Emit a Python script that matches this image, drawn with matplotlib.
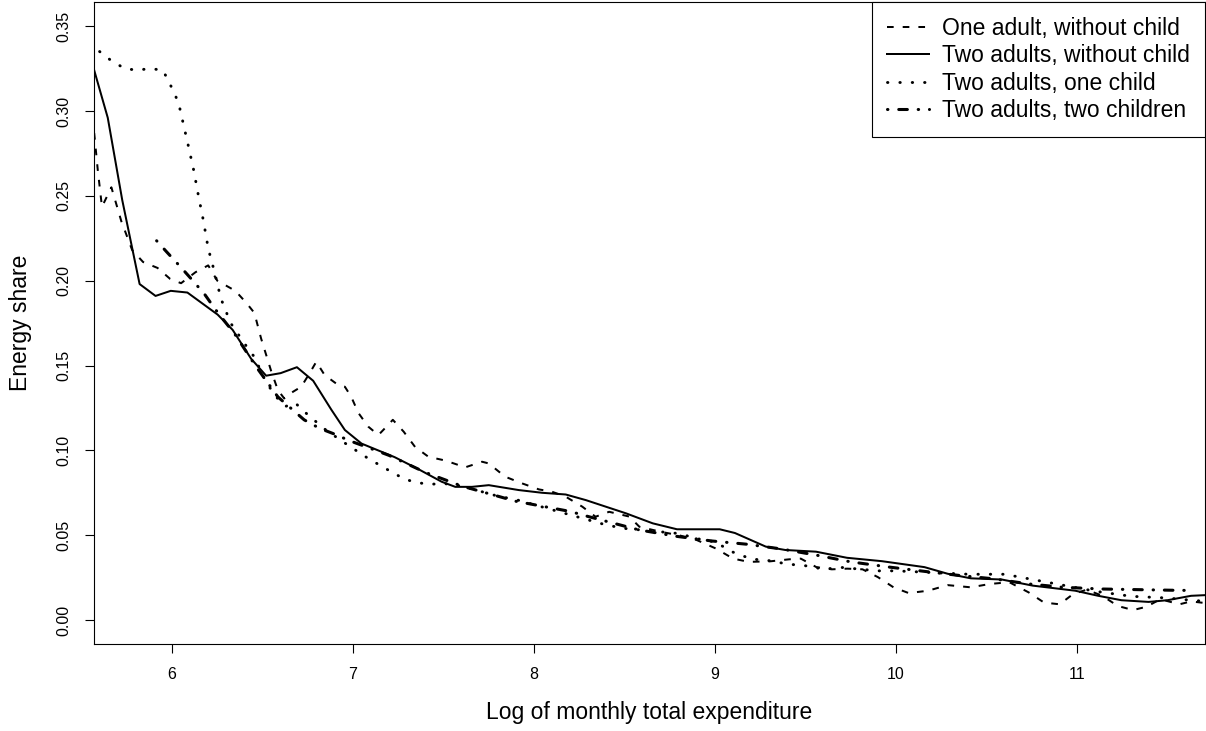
import matplotlib
matplotlib.use('Agg')
import matplotlib.pyplot as plt

# series (log expenditure, energy share)
one_adult_x = [5.57, 5.59, 5.613, 5.665, 5.72, 5.78, 5.84, 5.92, 5.99, 6.05, 6.13, 6.2, 6.25,
               6.35, 6.41, 6.455, 6.492, 6.547, 6.585, 6.62, 6.668, 6.714, 6.76, 6.797, 6.843,
               6.918, 6.955, 6.99, 7.03, 7.084, 7.14, 7.176, 7.22, 7.28, 7.343, 7.417, 7.51,
               7.62, 7.713, 7.75, 7.84, 7.935, 8.027, 8.1, 8.175, 8.267, 8.34, 8.415, 8.526,
               8.582, 8.7, 8.8, 8.898, 9.004, 9.1, 9.186, 9.303, 9.41, 9.474, 9.56, 9.645,
               9.73, 9.815, 9.9, 9.986, 10.07, 10.177, 10.285, 10.413, 10.52, 10.626, 10.733,
               10.818, 10.904, 10.978, 11.053, 11.14, 11.225, 11.31, 11.385, 11.46, 11.566,
               11.63, 11.71]
one_adult_y = [0.287, 0.265, 0.2435, 0.255, 0.235, 0.218, 0.211, 0.2075, 0.201, 0.1985, 0.205,
               0.209, 0.200, 0.194, 0.187, 0.181, 0.166, 0.147, 0.1355, 0.1306, 0.1345, 0.1375,
               0.1454, 0.1522, 0.1444, 0.1385, 0.1375, 0.1316, 0.122, 0.114, 0.109, 0.113,
               0.118, 0.111, 0.102, 0.0962, 0.094, 0.090, 0.0933, 0.0923, 0.0845, 0.0805,
               0.077, 0.0756, 0.0727, 0.0668, 0.0609, 0.0638, 0.061, 0.055, 0.052, 0.050,
               0.0472, 0.0422, 0.0362, 0.0343, 0.0346, 0.0358, 0.0362, 0.0312, 0.0299, 0.0303,
               0.0299, 0.0253, 0.0193, 0.0159, 0.0173, 0.0206, 0.0193, 0.0213, 0.0223, 0.0163,
               0.0103, 0.0093, 0.0153, 0.0179, 0.0143, 0.0083, 0.0059, 0.0079, 0.0123, 0.0093,
               0.011, 0.010]

two_adults_x = [5.57, 5.645, 5.725, 5.821, 5.909, 5.993, 6.085, 6.252, 6.335, 6.437, 6.52, 6.60,
                6.69, 6.78, 6.88, 6.955, 7.047, 7.23, 7.36, 7.49, 7.565, 7.657, 7.75, 7.916,
                8.045, 8.175, 8.286, 8.397, 8.508, 8.656, 8.79, 9.026, 9.11, 9.28, 9.388, 9.558,
                9.729, 9.922, 10.157, 10.285, 10.413, 10.584, 10.755, 10.99, 11.117, 11.245,
                11.395, 11.5, 11.63, 11.71]
two_adults_y = [0.324, 0.296, 0.2475, 0.198, 0.191, 0.194, 0.193, 0.180, 0.171, 0.154, 0.144,
                0.1455, 0.149, 0.141, 0.124, 0.112, 0.104, 0.096, 0.089, 0.0815, 0.0785, 0.0785,
                0.0795, 0.0766, 0.075, 0.074, 0.0707, 0.0668, 0.0629, 0.057, 0.0535, 0.0535,
                0.0513, 0.0433, 0.0413, 0.0403, 0.0367, 0.0347, 0.0312, 0.0273, 0.0246, 0.0239,
                0.0203, 0.0173, 0.0143, 0.0117, 0.0107, 0.0117, 0.0143, 0.0147]

one_child_x = [5.60, 5.66, 5.738, 5.808, 5.878, 5.95, 5.983, 6.016, 6.041, 6.057, 6.089, 6.12,
               6.146, 6.174, 6.2, 6.235, 6.27, 6.324, 6.4, 6.455, 6.52, 6.58, 6.63, 6.68, 6.75,
               6.85, 6.973, 7.03, 7.093, 7.158, 7.22, 7.287, 7.352, 7.426, 7.5, 7.6, 7.7, 7.8,
               7.9, 8.0, 8.1, 8.2, 8.3, 8.4, 8.5, 8.6, 8.7, 8.8, 8.9, 9.0, 9.1, 9.2, 9.3, 9.4,
               9.5, 9.6, 9.7, 9.8, 9.9, 10.0, 10.2, 10.4, 10.6, 10.8, 11.0, 11.1, 11.3, 11.5,
               11.6, 11.71]
one_child_y = [0.335, 0.330, 0.325, 0.324, 0.325, 0.324, 0.317, 0.310, 0.3025, 0.295, 0.280,
               0.265, 0.250, 0.235, 0.219, 0.205, 0.1895, 0.175, 0.163, 0.155, 0.140, 0.131,
               0.126, 0.128, 0.121, 0.112, 0.103, 0.099, 0.0946, 0.0907, 0.0868, 0.083, 0.081,
               0.080, 0.0805, 0.079, 0.076, 0.073, 0.071, 0.068, 0.065, 0.062, 0.059, 0.056,
               0.054, 0.053, 0.052, 0.051, 0.048, 0.046, 0.040, 0.036, 0.035, 0.033, 0.032,
               0.030, 0.031, 0.030, 0.029, 0.029, 0.028, 0.027, 0.027, 0.023, 0.019, 0.017,
               0.014, 0.013, 0.012, 0.011]

two_children_x = [5.915, 5.97, 6.048, 6.115, 6.18, 6.24, 6.35, 6.46, 6.585, 6.73, 6.815, 6.912,
                  6.973, 7.1, 7.2, 7.3, 7.4, 7.5, 7.6, 7.7, 7.8, 7.9, 8.0, 8.1, 8.2, 8.3, 8.364,
                  8.577, 8.79, 8.983, 9.175, 9.367, 9.558, 9.75, 9.964, 10.157, 10.349, 10.54,
                  10.733, 10.925, 11.14, 11.353, 11.566, 11.62]
two_children_y = [0.2235, 0.217, 0.208, 0.200, 0.192, 0.183, 0.168, 0.150, 0.1315, 0.118, 0.113,
                  0.109, 0.106, 0.101, 0.097, 0.092, 0.087, 0.083, 0.079, 0.076, 0.073, 0.070,
                  0.068, 0.066, 0.064, 0.061, 0.0592, 0.0532, 0.0493, 0.0466, 0.0447, 0.0419,
                  0.0383, 0.0343, 0.0312, 0.0287, 0.0263, 0.0243, 0.0213, 0.0193, 0.0183,
                  0.0179, 0.0175, 0.0175]

labels = ['One adult, without child', 'Two adults, without child',
          'Two adults, one child', 'Two adults, two children']
x_ticks = [6, 7, 8, 9, 10, 11]
y_ticks = [0.00, 0.05, 0.10, 0.15, 0.20, 0.25, 0.30, 0.35]

plt.rcParams['font.family'] = ['Liberation Sans', 'DejaVu Sans']
plt.rcParams['lines.scale_dashes'] = False

fig = plt.figure(figsize=(12.06, 7.31), dpi=100)
ax = fig.add_axes([94 / 1206, 1 - 644 / 731, 1111 / 1206, 642 / 731])

ax.plot(one_adult_x, one_adult_y, color='black', lw=1.44, dashes=(4.8, 6.5),
        dash_capstyle='butt', label=labels[0])
ax.plot(two_adults_x, two_adults_y, color='black', lw=1.44, label=labels[1])
ax.plot(one_child_x, one_child_y, color='black', lw=2.1, dashes=(0.3, 8.6),
        dash_capstyle='round', label=labels[2])
ax.plot(two_children_x, two_children_y, color='black', lw=2.2,
        dashes=(0.3, 7.8, 6.2, 7.8), dash_capstyle='round', label=labels[3])

ax.set_xlim(5.569, 11.707)
ax.set_ylim(-0.0141, 0.3642)
ax.set_xticks(x_ticks)
ax.set_xticklabels([str(t) for t in x_ticks])
ax.set_yticks(y_ticks)
ax.set_yticklabels([f'{t:.2f}' for t in y_ticks], rotation=90, va='center')

for s in ax.spines.values():
    s.set_linewidth(0.8)
ax.tick_params(direction='out', length=6.5, width=0.8, labelsize=11.5, color='black')
ax.tick_params(axis='x', pad=10)
ax.tick_params(axis='y', pad=9.5)

ax.set_xlabel('Log of monthly total expenditure', fontsize=16.5)
ax.set_ylabel('Energy share', fontsize=16.5)
ax.xaxis.label.set_va('center')
ax.xaxis.set_label_coords(0.5, (644 - 713) / 642)
ax.yaxis.label.set_va('center')
ax.yaxis.set_label_coords((20 - 94) / 1111, 0.5)

leg = ax.legend(loc='upper right', fontsize=16.5, frameon=True, fancybox=False,
                borderaxespad=0, borderpad=0.66, labelspacing=0.19, handlelength=1.83,
                handletextpad=0.57, framealpha=1)
leg.get_frame().set_edgecolor('black')
leg.get_frame().set_linewidth(0.8)

plt.savefig('out.png', dpi=100)
plt.close()
